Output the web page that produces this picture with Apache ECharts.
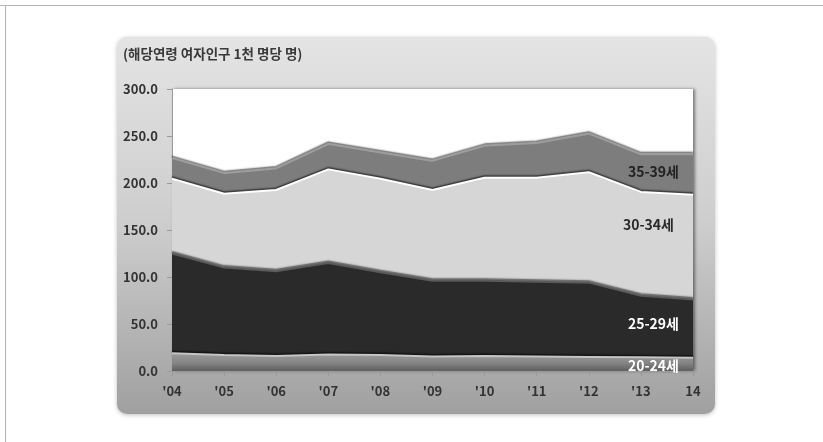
<!DOCTYPE html>
<html>
<head>
<meta charset="utf-8">
<script src="https://cdn.jsdelivr.net/npm/echarts@6/dist/echarts.min.js"></script>
<style>
  html, body { margin: 0; padding: 0; background: #fff; }
  #chart { width: 823px; height: 442px; }
</style>
</head>
<body>
<div id="chart"></div>
<script>
// Age-specific fertility rate (births per 1,000 women of the age group)
const years = ["'04", "'05", "'06", "'07", "'08", "'09", "'10", "'11", "'12", "'13", "14"];
const age20_24 = [19.0, 17.0, 16.0, 17.5, 17.0, 15.5, 16.0, 15.5, 15.0, 14.5, 14.0];
const age25_29 = [106.0, 93.0, 90.0, 97.5, 88.0, 80.5, 80.0, 79.5, 79.0, 65.5, 62.0];
const age30_34 = [79.5, 78.5, 86.5, 99.5, 99.5, 96.5, 109.5, 110.5, 117.5, 110.5, 111.5];
const age35_39 = [22.0, 22.0, 23.0, 27.0, 28.0, 31.0, 34.0, 37.0, 41.0, 40.0, 43.0];
const yTicks = { min: 0, max: 300, interval: 50 };
const unitText = '(해당연령 여자인구 1천 명당 명)';

const FONT = '"Noto Sans CJK KR", "Noto Sans", sans-serif';

function band(name, data, fill, edge, labelColor, labelOffset) {
  return {
    name: name,
    type: 'line',
    stack: 'asfr',
    data: data,
    showSymbol: false,
    symbol: 'none',
    z: 2,
    lineStyle: {
      color: edge,
      width: 2,
      shadowColor: 'rgba(0,0,0,0.6)',
      shadowBlur: 1.5,
      shadowOffsetY: -1.5
    },
    areaStyle: { color: fill, opacity: 1 },
    endLabel: {
      show: true,
      formatter: name,
      align: 'right',
      verticalAlign: 'middle',
      offset: labelOffset,
      color: labelColor,
      fontFamily: FONT,
      fontWeight: 'bold',
      fontSize: 14
    },
    emphasis: { disabled: true }
  };
}

const chart = echarts.init(document.getElementById('chart'), null, { renderer: 'canvas' });

chart.setOption({
  animation: false,
  backgroundColor: '#ffffff',
  graphic: [
    // page frame
    { type: 'line', shape: { x1: 0, y1: 5.5, x2: 823, y2: 5.5 }, style: { stroke: '#b4b4b4', lineWidth: 1 }, z: 0 },
    { type: 'line', shape: { x1: 5.5, y1: 5, x2: 5.5, y2: 442 }, style: { stroke: '#b4b4b4', lineWidth: 1 }, z: 0 },
    // chart panel
    {
      type: 'rect',
      z: -10,
      shape: { x: 117, y: 37, width: 598, height: 377, r: 10 },
      style: {
        fill: new echarts.graphic.LinearGradient(0, 0, 0, 1, [
          { offset: 0, color: '#e4e4e4' },
          { offset: 0.5, color: '#cdcdcd' },
          { offset: 1, color: '#a0a0a0' }
        ]),
        shadowColor: 'rgba(0,0,0,0.25)',
        shadowBlur: 4,
        shadowOffsetY: 1
      },
      silent: true
    },
    {
      type: 'text',
      left: 123,
      top: 47,
      style: { text: unitText, fill: '#3a3a3a', font: 'bold 13.5px ' + FONT }
    }
  ],
  grid: {
    left: 172, right: 130, top: 89, bottom: 71,
    show: true,
    backgroundColor: '#ffffff',
    borderWidth: 0,
    shadowColor: 'rgba(0,0,0,0.45)',
    shadowBlur: 3,
    shadowOffsetX: 2
  },
  xAxis: {
    type: 'category',
    data: years,
    boundaryGap: false,
    axisLine: { show: true, lineStyle: { color: '#9a9a9a' } },
    axisTick: { show: true, alignWithLabel: true, length: 5, lineStyle: { color: '#9a9a9a' } },
    axisLabel: { color: '#333', fontFamily: FONT, fontWeight: 'bold', fontSize: 13, margin: 14 },
    splitLine: { show: false }
  },
  yAxis: {
    type: 'value',
    min: yTicks.min,
    max: yTicks.max,
    interval: yTicks.interval,
    axisLine: { show: true, lineStyle: { color: '#9a9a9a' } },
    axisTick: { show: true, length: 5, lineStyle: { color: '#9a9a9a' } },
    axisLabel: {
      color: '#333', fontFamily: FONT, fontWeight: 'bold', fontSize: 13, margin: 14,
      formatter: v => v.toFixed(1)
    },
    splitLine: { show: false }
  },
  series: [
    band('20-24세', age20_24,
      new echarts.graphic.LinearGradient(0, 0, 0, 1, [
        { offset: 0, color: '#9c9c9c' },
        { offset: 0.55, color: '#858585' },
        { offset: 1, color: '#5e5e5e' }
      ]),
      '#c4c4c4', '#ffffff', [-22, 8]),
    band('25-29세', age25_29, '#2a2a2a', '#5a5a5a', '#ffffff', [-22, 24]),
    band('30-34세', age30_34, '#d6d6d6', '#ffffff', '#2a2a2a', [-27, 30]),
    band('35-39세', age35_39, '#7d7d7d', '#9c9c9c', '#222222', [-22, 17])
  ]
});
</script>
</body>
</html>
